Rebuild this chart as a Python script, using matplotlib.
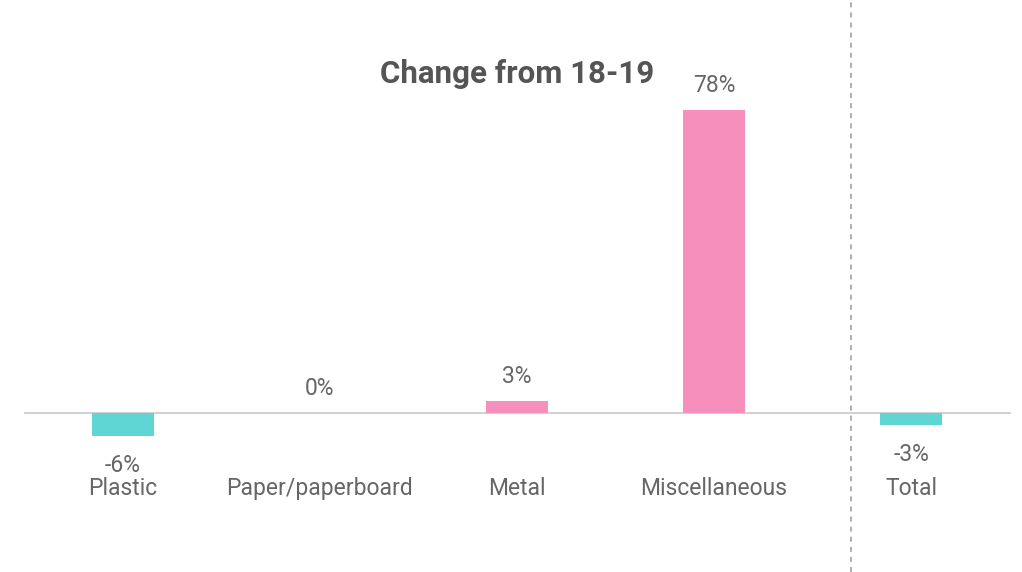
import matplotlib
matplotlib.use("Agg")
import matplotlib.pyplot as plt

categories = ["Plastic", "Paper/paperboard", "Metal", "Miscellaneous", "Total"]
changes = [-6, 0, 3, 78, -3]
value_labels = ["-6%", "0%", "3%", "78%", "-3%"]

TEAL = "#5fd6d4"
PINK = "#f78fbd"
TEXT = "#666666"

plt.rcParams["font.family"] = ["Roboto", "DejaVu Sans"]

fig = plt.figure(figsize=(10.22, 5.72), dpi=100)
ax = fig.add_axes([0, 0, 1, 1])
ax.set_xlim(-0.624, 4.563)
ax.set_ylim(-40.9, 106.3)
ax.axis("off")

x = list(range(len(categories)))
colors = [PINK if v > 0 else TEAL for v in changes]
ax.bar(x, changes, width=0.315, color=colors, zorder=2)

# zero baseline and separator before the total
ax.plot([-0.497, 4.503], [0, 0], color="#c8c8c8", lw=1.2, zorder=1)
ax.axvline(3.695, color="#999999", lw=1.1, ls=(0, (3.3, 3.3)), zorder=1)

for xi, v, lab, cat in zip(x, changes, value_labels, categories):
    if v < 0:
        ax.text(xi, v - 7.6, lab, ha="center", va="center", fontsize=16.5, color=TEXT)
    else:
        ax.text(xi, v + 6.4, lab, ha="center", va="center", fontsize=16.5, color=TEXT)
    ax.text(xi, -19.3, cat, ha="center", va="center", fontsize=16.5, color=TEXT)

ax.text(2, 87.3, "Change from 18-19", ha="center", va="center", fontsize=22.5,
        fontweight="bold", color="#555555")

fig.savefig("out.png", dpi=100)
